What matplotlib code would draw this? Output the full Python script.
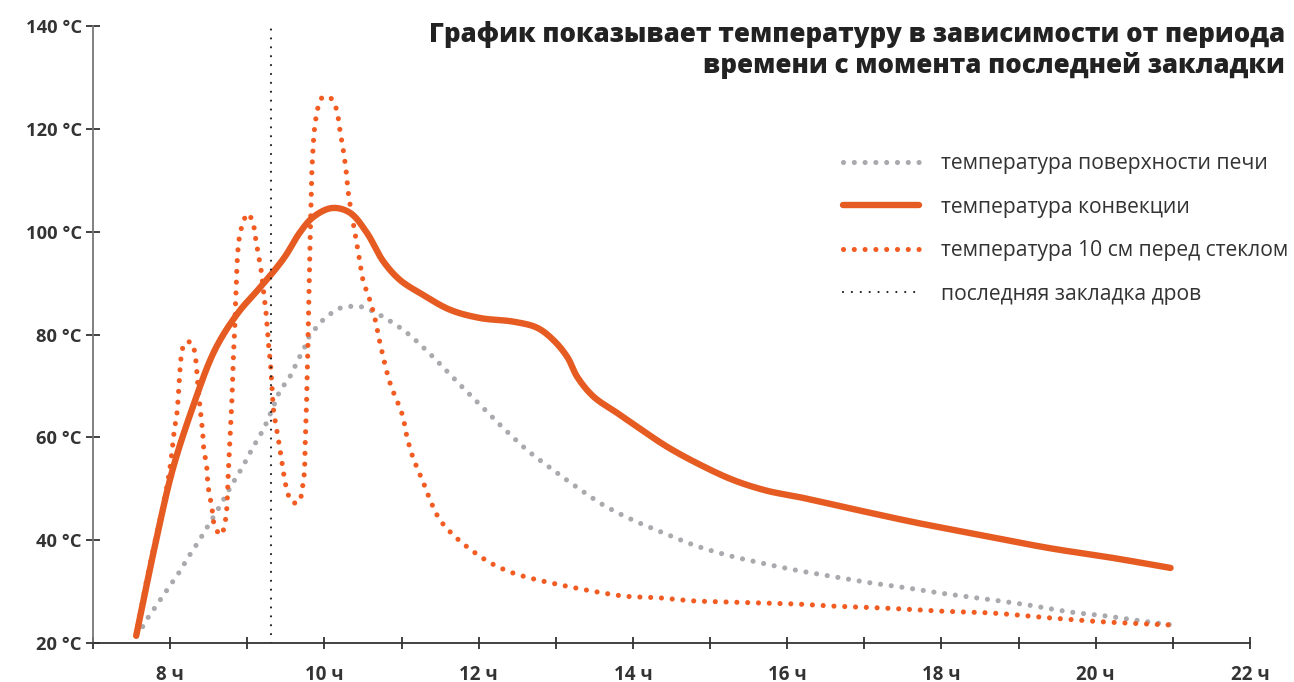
import numpy as np
import matplotlib
matplotlib.use("Agg")
import matplotlib.pyplot as plt
from matplotlib.lines import Line2D

# ---- data (hours, °C) ----
hours_surface = [7.56, 7.64, 7.72, 7.80, 7.88, 7.96, 8.04, 8.12, 8.19, 8.27, 8.35, 8.42, 8.49,
                 8.57, 8.64, 8.71, 8.78, 8.93, 9.06, 9.21, 9.32, 9.43, 9.53, 9.59, 9.66, 9.74,
                 9.79, 9.87, 9.96, 10.06, 10.18, 10.30, 10.44, 10.59, 11.02, 11.35, 11.72, 12.02,
                 12.32, 12.63, 12.96, 13.32, 13.62, 14.0, 14.40, 14.78, 15.22, 15.65, 16.10, 16.56,
                 16.99, 17.56, 17.99, 18.55, 19.12, 19.68, 20.11, 20.68, 21.0]
temp_surface = [21.5, 23.1, 25.1, 26.8, 28.6, 30.3, 32.1, 33.8, 35.6, 37.5, 39.3, 41.0, 42.8,
                44.7, 46.5, 48.4, 50.3, 54.0, 57.7, 61.6, 65.3, 69.2, 71.2, 72.9, 75.1, 77.4,
                79.3, 80.9, 82.5, 83.8, 85.0, 85.4, 85.5, 84.8, 80.9, 76.5, 70.8, 66.3,
                61.8, 57.5, 53.7, 49.8, 46.8, 43.9, 41.4, 39.1, 37.1, 35.6, 34.2, 33.0,
                31.9, 30.7, 29.7, 28.6, 27.4, 26.0, 25.3, 24.1, 23.5]

hours_convection = [7.56, 7.80, 8.03, 8.28, 8.58, 8.88, 9.14, 9.36, 9.50, 9.68, 9.86, 10.10,
                    10.33, 10.55, 10.76, 10.98, 11.28, 11.63, 12.02, 12.45, 12.76, 12.97, 13.15,
                    13.28, 13.49, 13.80, 14.06, 14.45, 14.88, 15.30, 15.74, 16.15, 16.78, 17.64,
                    18.51, 19.38, 20.24, 20.97]
temp_convection = [21.4, 38.7, 53.6, 65.3, 77.0, 84.2, 88.7, 92.6, 95.4, 99.8, 102.9, 104.6,
                   103.7, 99.8, 94.3, 90.6, 87.7, 84.8, 83.2, 82.5, 81.3, 78.9, 75.6,
                   71.7, 67.9, 64.7, 62.0, 58.1, 54.6, 51.7, 49.6, 48.4, 46.3, 43.5,
                   41.0, 38.5, 36.5, 34.6]

hours_glass = [7.56, 7.67, 7.78, 7.89, 7.98, 8.02, 8.05, 8.09, 8.11, 8.13, 8.15, 8.19, 8.28,
               8.32, 8.35, 8.36, 8.39, 8.42, 8.44, 8.47, 8.49, 8.54, 8.58, 8.66, 8.71, 8.73,
               8.75, 8.77, 8.80, 8.82, 8.835, 8.85, 8.91, 9.01, 9.08, 9.10, 9.14, 9.17, 9.19,
               9.22, 9.24, 9.27, 9.30, 9.32, 9.34, 9.39, 9.43, 9.47, 9.52, 9.58, 9.67, 9.71,
               9.74, 9.75, 9.765, 9.775, 9.785, 9.795, 9.805, 9.815, 9.825, 9.835, 9.85, 9.87,
               9.89, 9.92, 9.98, 10.08, 10.15, 10.18, 10.20, 10.24, 10.28, 10.31, 10.35, 10.40,
               10.45, 10.50, 10.59, 10.66, 10.72, 10.85, 11.01, 11.07, 11.15, 11.27, 11.37,
               11.50, 11.70, 11.92, 12.15, 12.41, 12.70, 13.06, 13.47, 13.90, 14.33, 14.77,
               15.20, 15.63, 16.10, 16.56, 17.25, 17.99, 18.68, 19.39, 20.11, 20.68, 20.97]
temp_glass = [21.4, 30.3, 38.1, 45.3, 52.3, 56.6, 60.9, 64.9, 69.2, 73.5, 76.4, 78.4, 78.4,
              76.4, 72.1, 69.8, 65.7, 61.4, 57.2, 55.0, 50.7, 46.5, 42.6, 41.0, 43.3, 45.3,
              51.7, 58.1, 66.9, 75.6, 80.0, 86.7, 99.9, 103.5, 101.3, 99.4, 95.9, 93.5, 91.2,
              87.1, 84.8, 79.0, 74.5, 69.8, 65.3, 60.9, 57.0, 53.1, 49.4, 47.4, 47.4, 49.8,
              53.1, 58.1, 64.7, 71.2, 77.0, 84.2, 92.0, 98.4, 104.8, 110.7, 115.5, 119.8,
              122.1, 124.3, 126.2, 126.0, 124.1, 122.1, 119.8, 116.3, 112.0, 107.5, 103.7, 99.4,
              95.1, 90.6, 86.7, 82.8, 78.4, 70.6, 64.4, 60.1, 56.0, 51.7, 47.8,
              43.9, 40.6, 37.9, 35.6, 33.8, 32.5, 31.3, 30.1, 29.1, 28.8, 28.2,
              28.0, 27.8, 27.6, 27.2, 26.8, 26.2, 25.8, 24.9, 24.1, 23.7, 23.5]

last_load_hour = 9.31

x_ticks = list(range(7, 23))
x_tick_labels = ["" if h % 2 else f"{h} ч" for h in x_ticks]
y_ticks = [20, 40, 60, 80, 100, 120, 140]
y_tick_labels = [f"{t} °C" for t in y_ticks]

title = "График показывает температуру в зависимости от периода\nвремени с момента последней закладки"
labels = ["температура поверхности печи", "температура конвекции",
          "температура 10 см перед стеклом", "последняя закладка дров"]

SX, SY = 77.07, 5.14  # px per hour / per degree, used only for smooth parametrisation


def catmull_rom(xh, yt, n=24, alpha=0.5):
    P = np.column_stack([np.asarray(xh, float) * SX, np.asarray(yt, float) * SY])
    P = np.vstack([2 * P[0] - P[1], P, 2 * P[-1] - P[-2]])
    out = []
    nseg = len(P) - 3
    for i in range(nseg):
        p0, p1, p2, p3 = P[i:i + 4]
        t0 = 0.0
        t1 = t0 + np.linalg.norm(p1 - p0) ** alpha
        t2 = t1 + np.linalg.norm(p2 - p1) ** alpha
        t3 = t2 + np.linalg.norm(p3 - p2) ** alpha
        t = np.linspace(t1, t2, n, endpoint=(i == nseg - 1))[:, None]
        A1 = (t1 - t) / (t1 - t0) * p0 + (t - t0) / (t1 - t0) * p1
        A2 = (t2 - t) / (t2 - t1) * p1 + (t - t1) / (t2 - t1) * p2
        A3 = (t3 - t) / (t3 - t2) * p2 + (t - t2) / (t3 - t2) * p3
        B1 = (t2 - t) / (t2 - t0) * A1 + (t - t0) / (t2 - t0) * A2
        B2 = (t3 - t) / (t3 - t1) * A2 + (t - t1) / (t3 - t1) * A3
        out.append((t2 - t) / (t2 - t1) * B1 + (t - t1) / (t2 - t1) * B2)
    C = np.vstack(out)
    return C[:, 0] / SX, C[:, 1] / SY


plt.rcParams['font.family'] = ['Open Sans', 'DejaVu Sans']

fig = plt.figure(figsize=(12.94, 6.82), dpi=100)
ax = fig.add_axes([93 / 1294, 1 - 643 / 682, (1250 - 93) / 1294, (643 - 26) / 682])

C_SOLID = '#E55B22'
C_DOT = '#F25C22'
C_GRAY = '#A9A9AE'
C_BLACK = '#222222'

dot_style = (0, (0.001, 2.1))
vline_style = (0, (0.001, 4.0))

xs, ys = catmull_rom(hours_surface, temp_surface)
ax.plot(xs, ys, color=C_GRAY, lw=3.7, linestyle=dot_style, dash_capstyle='round')
xs, ys = catmull_rom(hours_glass, temp_glass)
ax.plot(xs, ys, color=C_DOT, lw=3.7, linestyle=dot_style, dash_capstyle='round')
xs, ys = catmull_rom(hours_convection, temp_convection)
ax.plot(xs, ys, color=C_SOLID, lw=4.6, solid_capstyle='round', solid_joinstyle='round')
ax.plot([last_load_hour, last_load_hour], [20, 140], color=C_BLACK, lw=1.6,
        linestyle=vline_style, dash_capstyle='round')

ax.set_xlim(7, 22)
ax.set_ylim(20, 140)
for s in ['top', 'right']:
    ax.spines[s].set_visible(False)
ax.spines['left'].set_color('#777777')
ax.spines['bottom'].set_color('#333333')
ax.spines['left'].set_linewidth(1.3)
ax.spines['bottom'].set_linewidth(1.3)

ax.set_xticks(x_ticks)
ax.set_xticklabels(x_tick_labels)
ax.set_yticks(y_ticks)
ax.set_yticklabels(y_tick_labels)
ax.tick_params(axis='x', direction='inout', length=9, width=1.3, color='#333333', pad=11,
               labelsize=13.5, labelcolor='#333333')
ax.tick_params(axis='y', direction='inout', length=10, width=1.3, color='#333333', pad=3,
               labelsize=13.2, labelcolor='#333333')
for lab in ax.get_xticklabels() + ax.get_yticklabels():
    lab.set_fontweight('bold')

fig.text(1285 / 1294, 1 - 21 / 682, title, ha='right', va='top', fontsize=18.6,
         fontweight=800, color='#222222', linespacing=1.18)

handles = [
    Line2D([], [], color=C_GRAY, lw=3.7, linestyle=dot_style, dash_capstyle='round'),
    Line2D([], [], color=C_SOLID, lw=4.6, solid_capstyle='round'),
    Line2D([], [], color=C_DOT, lw=3.7, linestyle=dot_style, dash_capstyle='round'),
    Line2D([], [], color=C_BLACK, lw=1.6, linestyle=vline_style, dash_capstyle='round'),
]
leg = ax.legend(handles, labels, loc='upper left', bbox_to_anchor=(843 / 1294, 1 - 153 / 682),
                bbox_transform=fig.transFigure, frameon=False, fontsize=15.2, borderpad=0,
                borderaxespad=0, handlelength=3.6, handletextpad=1.05, labelspacing=1.07)
for t in leg.get_texts():
    t.set_color('#333333')

fig.savefig('out.png', dpi=100)
